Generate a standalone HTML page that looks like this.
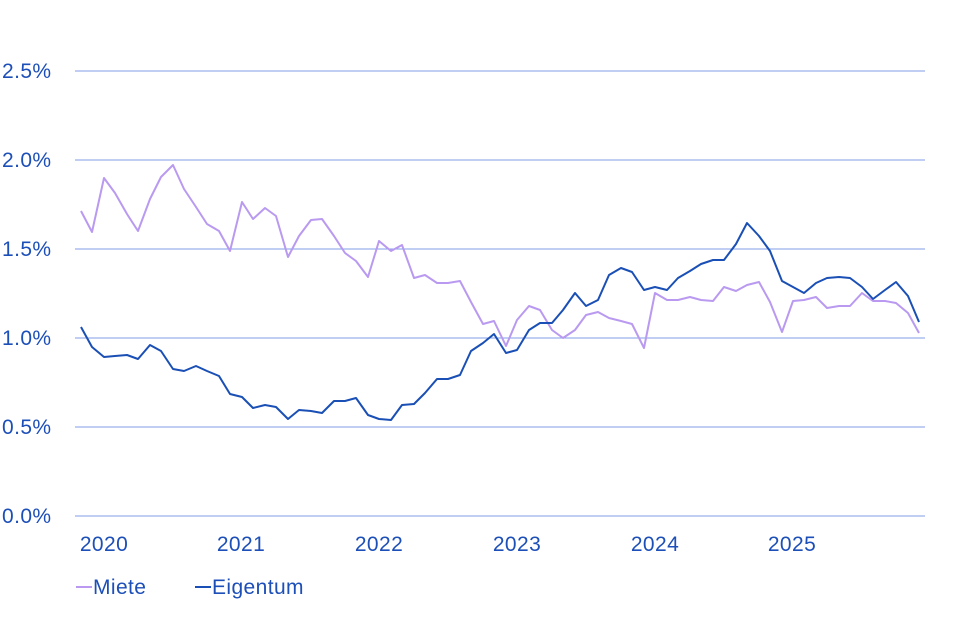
<!DOCTYPE html>
<html><head><meta charset="utf-8"><style>
html,body{margin:0;padding:0;background:#fff;width:960px;height:640px;overflow:hidden}
text{font-family:"Liberation Sans",sans-serif;fill:#1d4fb8;font-size:21px;letter-spacing:0.4px}
</style></head><body>
<svg width="960" height="640" viewBox="0 0 960 640">
<g stroke="#7f9ee6" stroke-width="1.1">
<line x1="75" x2="925" y1="71" y2="71"/><line x1="75" x2="925" y1="160" y2="160"/>
<line x1="75" x2="925" y1="249" y2="249"/><line x1="75" x2="925" y1="338" y2="338"/>
<line x1="75" x2="925" y1="427" y2="427"/><line x1="75" x2="925" y1="516" y2="516"/>
</g>
<g text-anchor="start">
<text x="2" y="78">2.5%</text><text x="2" y="167">2.0%</text><text x="2" y="256">1.5%</text>
<text x="2" y="345">1.0%</text><text x="2" y="434">0.5%</text><text x="2" y="523">0.0%</text>
</g>
<g text-anchor="middle">
<text x="104" y="551">2020</text><text x="241" y="551">2021</text><text x="379" y="551">2022</text>
<text x="517" y="551">2023</text><text x="655" y="551">2024</text><text x="792" y="551">2025</text>
</g>
<polyline fill="none" stroke="#b99af0" stroke-width="2" stroke-linejoin="round" points="81,211 92,232 104,178 115,193 127,214 138,231 150,199 161,177 173,165 184,189 196,207 207,224 219,231 230,251 242,202 253,219 265,208 276,216 288,257 299,236 311,220 322,219 334,236 345,253 356,261 368,277 379,241 391,251 402,245 414,278 425,275 437,283 448,283 460,281 471,302 483,324 494,321 506,346 517,320 529,306 540,310 552,330 563,338 575,330 586,315 598,312 609,318 621,321 632,324 644,348 655,293 667,300 678,300 690,297 701,300 713,301 724,287 736,291 747,285 759,282 770,302 782,332 793,301 804,300 816,297 827,308 839,306 850,306 862,293 873,301 885,301 896,303 908,313 919,333"/>
<polyline fill="none" stroke="#1a4fb5" stroke-width="2" stroke-linejoin="round" points="81,327 92,347 104,357 115,356 127,355 138,359 150,345 161,351 173,369 184,371 196,366 207,371 219,376 230,394 242,397 253,408 265,405 276,407 288,419 299,410 311,411 322,413 334,401 345,401 356,398 368,415 379,419 391,420 402,405 414,404 425,393 437,379 448,379 460,375 471,351 483,343 494,334 506,353 517,350 529,330 540,323 552,323 563,310 575,293 586,306 598,300 609,275 621,268 632,272 644,290 655,287 667,290 678,278 690,271 701,264 713,260 724,260 736,244 747,223 759,236 770,251 782,281 793,287 804,293 816,283 827,278 839,277 850,278 862,287 873,299 885,290 896,282 908,296 919,322"/>
<line x1="76" x2="92" y1="587" y2="587" stroke="#b99af0" stroke-width="2"/>
<text x="93" y="594">Miete</text>
<line x1="195" x2="211" y1="587" y2="587" stroke="#1a4fb5" stroke-width="2"/>
<text x="212" y="594">Eigentum</text>
</svg>
</body></html>
